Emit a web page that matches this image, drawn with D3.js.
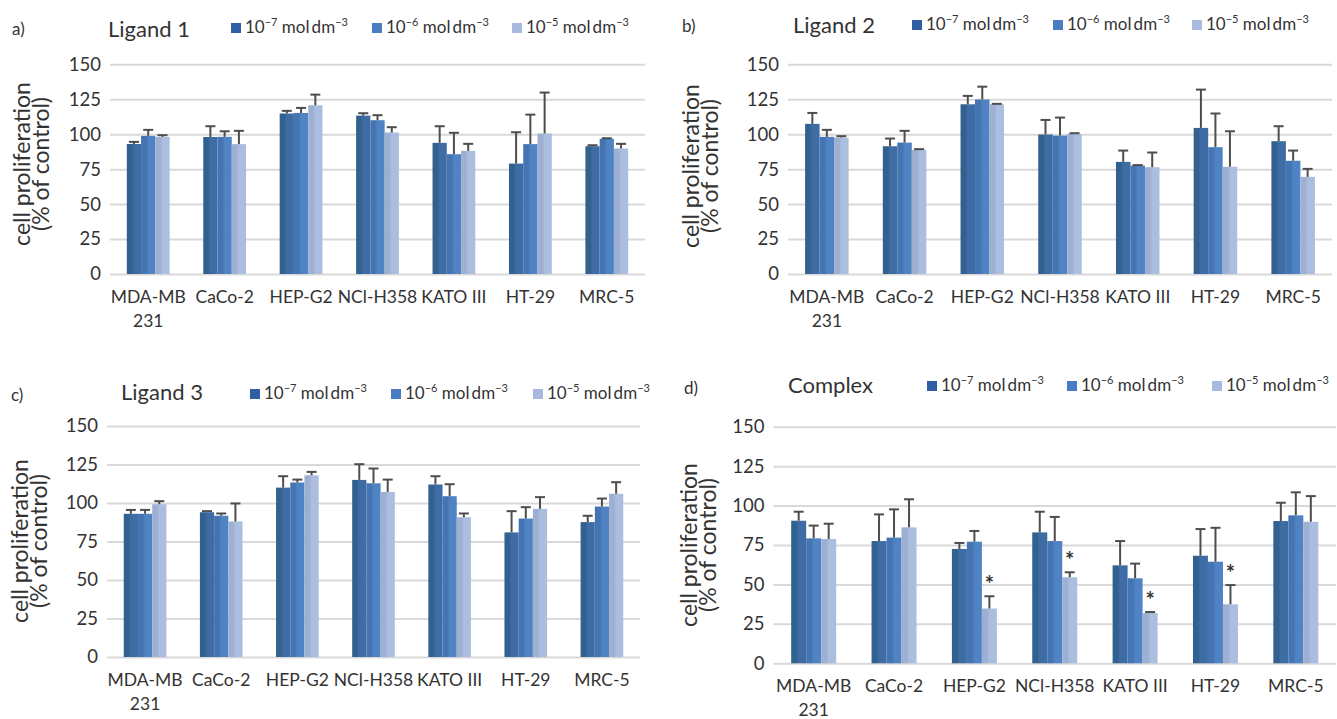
<!DOCTYPE html>
<html>
<head>
<meta charset="utf-8">
<script src="https://cdn.jsdelivr.net/npm/d3@7"></script>
<style>
body { margin: 0; background: #fff; }
text { font-family: Lato, "Open Sans", sans-serif; font-weight: 400; fill: #333; }
</style>
</head>
<body>
<svg id="chart" width="1337" height="719"></svg>
<script>
// cell lines on the x axis ("\n" = line break in the label)
var cellLines = ["MDA-MB\n231", "CaCo-2", "HEP-G2", "NCl-H358", "KATO III", "HT-29", "MRC-5"];
// concentration exponents: 10^-7, 10^-6, 10^-5 mol dm^-3
var exponents = ["\u22127", "\u22126", "\u22125"];
var yTicks = [0, 25, 50, 75, 100, 125, 150];

// means per concentration (rows) and cell line (columns), % of control
var ligand1Means = [
    [93, 98, 114.8, 113.3, 93.8, 79, 91.4],
    [98.8, 98.1, 115.2, 110, 85.7, 92.9, 96.7],
    [98.1, 92.9, 120.7, 101.2, 88.1, 100.5, 89.8]
];
var ligand1Errors = [
    [1.5, 7.7, 1.9, 1.7, 11.9, 22.4, 0.7],
    [4.3, 4, 3.6, 3.6, 15.3, 21.1, 0.4],
    [1.2, 9.5, 7.6, 3.8, 5, 29.3, 3.3]
];

var ligand2Means = [
    [107.4, 91.4, 121.4, 99.8, 80.2, 104.5, 95],
    [98.1, 94, 124.8, 99, 77.6, 90.7, 81],
    [97.6, 88.8, 121.4, 100.2, 76.4, 76.7, 69.5]
];
var ligand2Errors = [
    [7.8, 5.5, 6, 10.4, 8.1, 27.4, 10.7],
    [5, 8.4, 9.2, 12.9, 0.3, 24.1, 7.3],
    [1, 0.5, 0.3, 0.5, 10.5, 25.4, 5.7]
];

var ligand3Means = [
    [93, 94, 110, 115, 112, 80.9, 87.6],
    [93, 91.7, 113.3, 112.8, 104.4, 89.9, 97.7],
    [99.2, 88, 118, 107.2, 90.8, 96.2, 106]
];
var ligand3Errors = [
    [2.5, 0.7, 7.4, 10.2, 5.4, 13.8, 4.1],
    [2.5, 1.5, 1.9, 9.6, 7.8, 7.4, 5.2],
    [2, 11.7, 2.2, 8, 2.4, 7.6, 7.5]
];

var complexMeans = [
    [90.4, 77.5, 72.5, 83, 62.1, 68.2, 90.2],
    [79.2, 79.7, 77.1, 77.5, 53.9, 64.4, 93.8],
    [78.8, 86.2, 34.7, 54.5, 31.9, 37.4, 89.7]
];
var complexErrors = [
    [5.7, 16.9, 3.8, 13.1, 15.4, 16.9, 11.6],
    [8.1, 17.9, 6.8, 15.3, 9.3, 21.5, 14.6],
    [9.7, 17.8, 7.8, 3.2, 0.6, 12.2, 16.3]
];
// significant differences (*) for the 10^-5 series
var complexSignificant = [false, false, true, true, true, true, false];

var barColors = [
    { base: "#3e6da5", shade: "#33618f", key: "#2f5ea5" },
    { base: "#4f83c3", shade: "#4474b1", key: "#4a7cc2" },
    { base: "#acbedf", shade: "#9eb0d2", key: "#a8badf" }
];

var panels = [
    { tag: "a)", title: "Ligand 1", means: ligand1Means, errors: ligand1Errors,
      left: 110, right: 645, top: 64.3, bottom: 274,
      tagX: 12, tagY: 35, titleX: 108, titleY: 37, legendX: [231, 372, 512], legendY: 33,
      yTitleX: 30, yTitleY: 164 },
    { tag: "b)", title: "Ligand 2", means: ligand2Means, errors: ligand2Errors,
      left: 788, right: 1332, top: 64.3, bottom: 274,
      tagX: 682, tagY: 32, titleX: 793, titleY: 33, legendX: [912, 1053, 1192], legendY: 30,
      yTitleX: 699, yTitleY: 166 },
    { tag: "c)", title: "Ligand 3", means: ligand3Means, errors: ligand3Errors,
      left: 107, right: 640, top: 426, bottom: 657,
      tagX: 11, tagY: 401, titleX: 121, titleY: 400, legendX: [250, 391, 533], legendY: 399,
      yTitleX: 28, yTitleY: 541 },
    { tag: "d)", title: "Complex", means: complexMeans, errors: complexErrors, stars: complexSignificant,
      left: 773.5, right: 1336, top: 426.7, bottom: 663.3,
      tagX: 684, tagY: 394, titleX: 788, titleY: 393, legendX: [927, 1067, 1212], legendY: 391,
      yTitleX: 697, yTitleY: 545 }
];

var svg = d3.select("#chart");

var defs = svg.append("defs");
barColors.forEach(function (c, i) {
    var g = defs.append("linearGradient")
        .attr("id", "bar" + i)
        .attr("x1", "0").attr("x2", "1").attr("y1", "0").attr("y2", "0");
    g.append("stop").attr("offset", "0").attr("stop-color", c.shade);
    g.append("stop").attr("offset", "0.35").attr("stop-color", c.shade);
    g.append("stop").attr("offset", "0.5").attr("stop-color", c.base);
    g.append("stop").attr("offset", "1").attr("stop-color", c.base);
});

panels.forEach(function (p) {
    var width = p.right - p.left,
        height = p.bottom - p.top;

    var g = svg.append("g")
        .attr("transform", "translate(" + p.left + "," + p.top + ")");

    var x = d3.scaleBand()
        .domain(cellLines)
        .range([0, width])
        .paddingInner(0.44)
        .paddingOuter(0.22);

    var xs = d3.scaleBand()
        .domain([0, 1, 2])
        .range([0, x.bandwidth()]);

    var y = d3.scaleLinear()
        .domain([0, 150])
        .range([height, 0]);

    // gridlines + y tick labels
    var yAxis = g.append("g")
        .call(d3.axisLeft(y).tickValues(yTicks).tickSize(-width).tickPadding(9));
    yAxis.select(".domain").remove();
    yAxis.selectAll(".tick line")
        .attr("stroke", "#d9d9d9")
        .attr("stroke-width", 2);
    yAxis.selectAll(".tick text")
        .attr("fill", "#3a3a3a")
        .style("font-size", "18.5px")
        .style("font-family", "Lato, sans-serif");

    // x labels
    var xAxis = g.append("g")
        .attr("transform", "translate(0," + height + ")")
        .call(d3.axisBottom(x).tickSize(0));
    xAxis.select(".domain").remove();
    xAxis.selectAll(".tick text").each(function (d) {
        var t = d3.select(this)
            .attr("y", 29).attr("dy", null)
            .attr("fill", "#333")
            .style("font-size", "17.5px")
            .style("font-family", "Lato, sans-serif")
            .text(null);
        d.split("\n").forEach(function (line, i) {
            t.append("tspan")
                .attr("x", 0)
                .attr("dy", i === 0 ? 0 : 24)
                .text(line);
        });
    });

    // bars
    var groups = g.selectAll(".group")
        .data(cellLines)
        .enter().append("g")
        .attr("transform", function (d) { return "translate(" + x(d) + ",0)"; });

    function cells(d, ci) {
        return [0, 1, 2].map(function (s) {
            return { s: s, v: p.means[s][ci], e: p.errors[s][ci] };
        });
    }

    groups.selectAll("rect")
        .data(cells)
        .enter().append("rect")
        .attr("x", function (d) { return xs(d.s); })
        .attr("width", xs.bandwidth())
        .attr("y", function (d) { return y(d.v); })
        .attr("height", function (d) { return height - y(d.v); })
        .attr("fill", function (d) { return "url(#bar" + d.s + ")"; });

    // error bars (upper only)
    var err = groups.selectAll(".err")
        .data(cells)
        .enter().append("g")
        .attr("class", "err")
        .attr("stroke", "#4d4d4d")
        .attr("stroke-width", 2);

    err.append("line")
        .attr("x1", function (d) { return xs(d.s) + xs.bandwidth() / 2; })
        .attr("x2", function (d) { return xs(d.s) + xs.bandwidth() / 2; })
        .attr("y1", function (d) { return y(d.v); })
        .attr("y2", function (d) { return y(d.v + d.e); });

    err.append("line")
        .attr("x1", function (d) { return xs(d.s) + xs.bandwidth() / 2 - 5; })
        .attr("x2", function (d) { return xs(d.s) + xs.bandwidth() / 2 + 5; })
        .attr("y1", function (d) { return y(d.v + d.e); })
        .attr("y2", function (d) { return y(d.v + d.e); });

    // significance marks
    if (p.stars) {
        groups.filter(function (d, ci) { return p.stars[ci]; })
            .append("text")
            .attr("x", xs(2) + xs.bandwidth() / 2)
            .attr("y", function (d) {
                var ci = cellLines.indexOf(d);
                return y(p.means[2][ci] + p.errors[2][ci]) - 4;
            })
            .attr("text-anchor", "middle")
            .attr("fill", "#111")
            .style("font-size", "22px")
            .style("font-weight", "bold")
            .text("*");
    }

    // y axis title
    var yt = svg.append("g")
        .attr("transform", "translate(" + p.yTitleX + "," + p.yTitleY + ") rotate(-90)");
    yt.append("text")
        .attr("text-anchor", "middle")
        .style("font-size", "23px")
        .text("cell proliferation");
    yt.append("text")
        .attr("text-anchor", "middle")
        .attr("y", 19)
        .style("font-size", "23px")
        .text("(% of control)");

    // panel tag and title
    svg.append("text")
        .attr("x", p.tagX).attr("y", p.tagY)
        .style("font-size", "17px")
        .text(p.tag);
    svg.append("text")
        .attr("x", p.titleX).attr("y", p.titleY)
        .attr("fill", "#222")
        .style("font-size", "22px")
        .text(p.title);

    // legend
    exponents.forEach(function (ex, i) {
        var lx = p.legendX[i];
        svg.append("rect")
            .attr("x", lx).attr("y", p.legendY - 10)
            .attr("width", 10).attr("height", 10)
            .attr("fill", barColors[i].key);
        var t = svg.append("text")
            .attr("x", lx + 14).attr("y", p.legendY)
            .style("font-size", "17px");
        t.append("tspan").text("10");
        t.append("tspan").attr("dy", -7).style("font-size", "11px").text(ex);
        t.append("tspan").attr("dy", 7).text(" mol\u2009dm");
        t.append("tspan").attr("dy", -7).style("font-size", "11px").text("\u22123");
    });
});
</script>
</body>
</html>
